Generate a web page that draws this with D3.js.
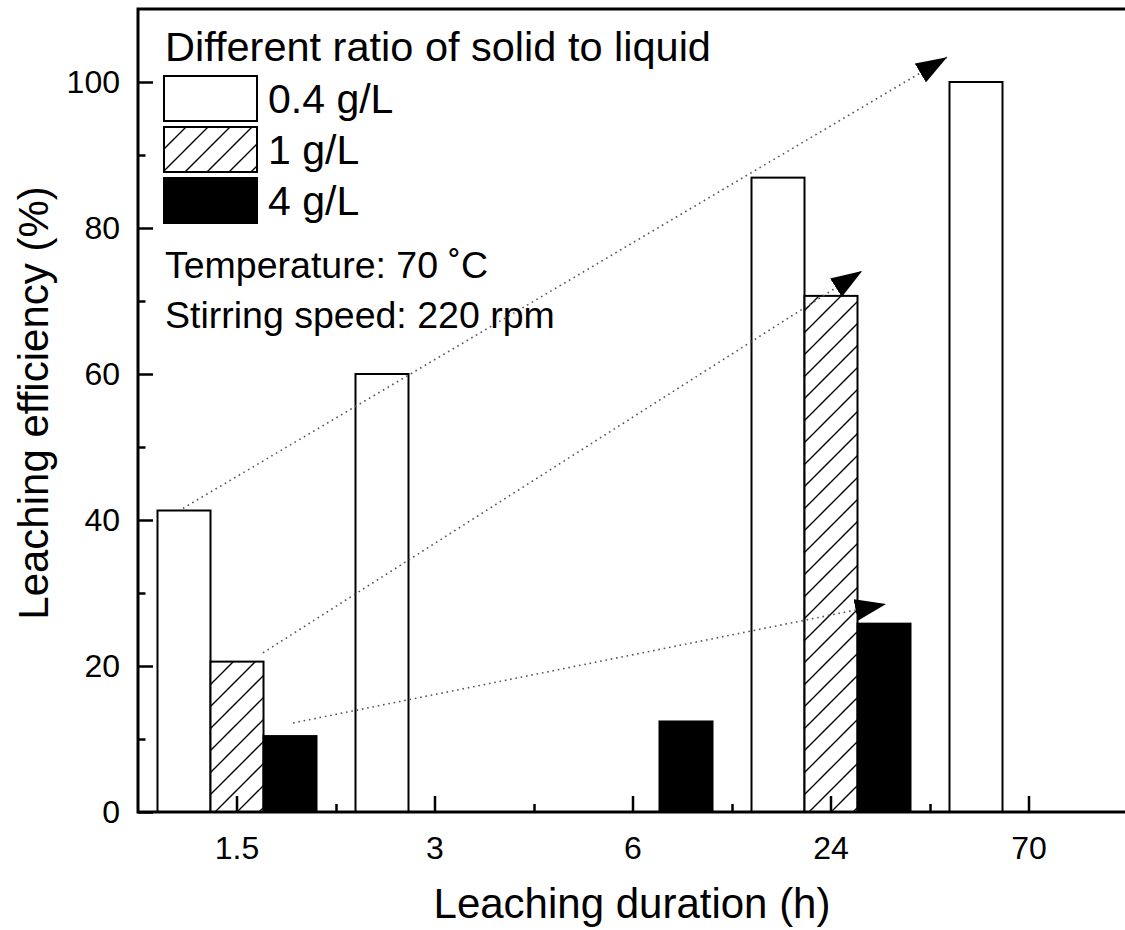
<!DOCTYPE html>
<html>
<head>
<meta charset="utf-8">
<script src="https://cdn.jsdelivr.net/npm/d3@7"></script>
<style>
  body { margin: 0; background: #fff; }
  text { font-family: "Liberation Sans", Arial, sans-serif; fill: #000; }
</style>
</head>
<body>
<div id="chart"></div>
<script>
// data
var durations = ["1.5", "3", "6", "24", "70"];
var ratioNames = ["0.4 g/L", "1 g/L", "4 g/L"];
var ratio04 = [41.3, 60, null, 86.9, 100];
var ratio1 = [20.6, null, null, 70.7, null];
var ratio4 = [10.4, null, 12.4, 25.8, null];
var yTicks = [0, 20, 40, 60, 80, 100];
var yMinorTicks = [10, 30, 50, 70, 90];

// trend arrows: [category index, value] start -> end
var arrowStarts = [[-0.273, 41.6], [0.131, 21.8], [0.283, 12.2]];
var arrowEnds = [[3.586, 103.4], [3.157, 74.1], [3.278, 28.5]];

var svgWidth = 1125;
var svgHeight = 930;
var margin = { top: 9, right: 0, bottom: 118, left: 138 };
var chartWidth = 990;
var chartHeight = svgHeight - margin.top - margin.bottom;

var svg = d3.select("#chart")
    .append("svg")
    .attr("width", svgWidth)
    .attr("height", svgHeight);

var defs = svg.append("defs");
var hatch = defs.append("pattern")
    .attr("id", "hatch")
    .attr("patternUnits", "userSpaceOnUse")
    .attr("width", 22)
    .attr("height", 22);
hatch.append("rect").attr("width", 22).attr("height", 22).attr("fill", "#fff");
hatch.append("path")
    .attr("d", "M0,22 L22,0 M-11,11 L11,-11 M11,33 L33,11")
    .attr("stroke", "#000")
    .attr("stroke-width", 1.4);

defs.append("marker")
    .attr("id", "head")
    .attr("viewBox", "0 0 31 22")
    .attr("refX", 31)
    .attr("refY", 11)
    .attr("markerWidth", 31)
    .attr("markerHeight", 22)
    .attr("markerUnits", "userSpaceOnUse")
    .attr("orient", "auto")
    .append("path")
    .attr("d", "M0,0 L31,11 L0,22 Z")
    .attr("fill", "#000");

var chartGroup = svg.append("g")
    .attr("transform", `translate(${margin.left}, ${margin.top})`);

var x0 = d3.scaleBand()
    .domain(durations)
    .range([0, chartWidth]);

var x1 = d3.scaleBand()
    .domain(ratioNames)
    .range([19.5, 178.5]);

var xIndex = d3.scaleLinear()
    .domain([-0.5, 4.5])
    .range([0, chartWidth]);

var yLinearScale = d3.scaleLinear()
    .domain([0, 110])
    .range([chartHeight, 0]);

// bars
var series = [
    { name: ratioNames[0], values: ratio04, fill: "#fff" },
    { name: ratioNames[1], values: ratio1, fill: "url(#hatch)" },
    { name: ratioNames[2], values: ratio4, fill: "#000" }
];

var barData = [];
series.forEach(s => {
    s.values.forEach((v, i) => {
        if (v !== null) barData.push({ cat: durations[i], name: s.name, value: v, fill: s.fill });
    });
});

chartGroup.append("g")
    .selectAll("rect")
    .data(barData)
    .join("rect")
    .attr("x", d => x0(d.cat) + x1(d.name))
    .attr("y", d => yLinearScale(d.value))
    .attr("width", x1.bandwidth())
    .attr("height", d => chartHeight - yLinearScale(d.value))
    .attr("fill", d => d.fill)
    .attr("stroke", "#000")
    .attr("stroke-width", 2);

// dotted trend arrows
chartGroup.append("g")
    .selectAll("line")
    .data(arrowStarts)
    .join("line")
    .attr("x1", d => xIndex(d[0]))
    .attr("y1", d => yLinearScale(d[1]))
    .attr("x2", (d, i) => xIndex(arrowEnds[i][0]))
    .attr("y2", (d, i) => yLinearScale(arrowEnds[i][1]))
    .attr("stroke", "#555")
    .attr("stroke-width", 1.6)
    .attr("stroke-dasharray", "1.6,3.8")
    .attr("marker-end", "url(#head)");

// axes with inward ticks
var leftAxis = d3.axisLeft(yLinearScale)
    .tickValues(yTicks)
    .tickSize(-15)
    .tickPadding(18);

var leftMinor = d3.axisLeft(yLinearScale)
    .tickValues(yMinorTicks)
    .tickSize(-7.5)
    .tickFormat("");

var bottomAxis = d3.axisBottom(x0)
    .tickSize(-16)
    .tickPadding(24);

var bottomMinor = d3.axisBottom(xIndex)
    .tickValues([0.5, 1.5, 2.5, 3.5])
    .tickSize(-8)
    .tickFormat("");

var yAxisG = chartGroup.append("g").call(leftAxis);
chartGroup.append("g").call(leftMinor);
var xAxisG = chartGroup.append("g")
    .attr("transform", `translate(0, ${chartHeight})`)
    .call(bottomAxis);
chartGroup.append("g")
    .attr("transform", `translate(0, ${chartHeight})`)
    .call(bottomMinor);

chartGroup.selectAll(".domain").remove();
chartGroup.selectAll(".tick line").attr("stroke", "#000").attr("stroke-width", 2.5);
yAxisG.selectAll("text").style("font-size", "32px").attr("fill", "#000");
xAxisG.selectAll("text").style("font-size", "32px").attr("fill", "#000");

// frame
chartGroup.append("rect")
    .attr("x", 0)
    .attr("y", 0)
    .attr("width", chartWidth)
    .attr("height", chartHeight)
    .attr("fill", "none")
    .attr("stroke", "#000")
    .attr("stroke-width", 3);

// legend
var legend = svg.append("g");
legend.append("text")
    .attr("x", 165)
    .attr("y", 61)
    .style("font-size", "41.5px")
    .text("Different ratio of solid to liquid");

var legendItems = legend.selectAll("g.item")
    .data(series)
    .join("g")
    .attr("class", "item")
    .attr("transform", (d, i) => `translate(164, ${76 + i * 51})`);

legendItems.append("rect")
    .attr("width", 93)
    .attr("height", 45)
    .attr("fill", d => d.fill)
    .attr("stroke", "#000")
    .attr("stroke-width", 2);

legendItems.append("text")
    .attr("x", 104)
    .attr("y", 37)
    .style("font-size", "41px")
    .text(d => d.name);

legend.append("text")
    .attr("x", 165)
    .attr("y", 278)
    .style("font-size", "37.5px")
    .text("Temperature: 70 ˚C");

legend.append("text")
    .attr("x", 165)
    .attr("y", 328)
    .style("font-size", "37.5px")
    .text("Stirring speed: 220 rpm");

// axis titles
svg.append("text")
    .attr("transform", "translate(48, 403) rotate(-90)")
    .attr("text-anchor", "middle")
    .style("font-size", "42px")
    .text("Leaching efficiency (%)");

svg.append("text")
    .attr("x", 632)
    .attr("y", 918)
    .attr("text-anchor", "middle")
    .style("font-size", "42px")
    .text("Leaching duration (h)");
</script>
</body>
</html>
